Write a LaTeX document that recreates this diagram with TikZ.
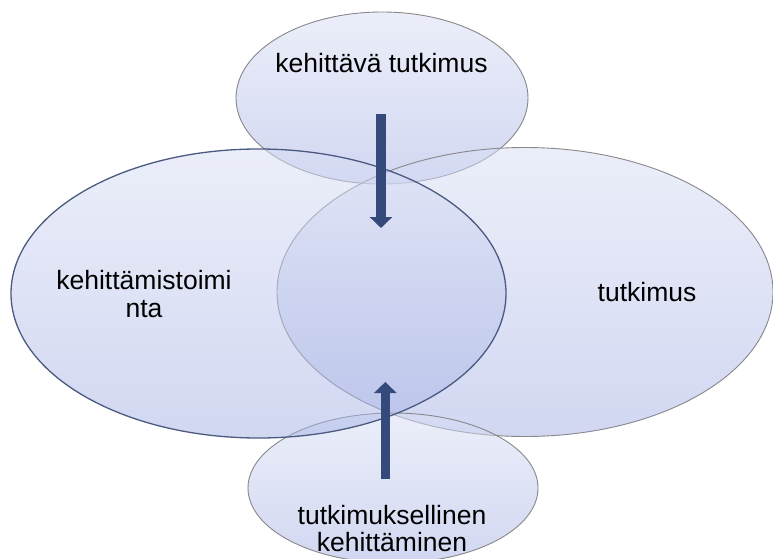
\documentclass[tikz,border=0pt]{standalone}
\usepackage{fontspec}
\setmainfont{Liberation Sans}
\usetikzlibrary{shapes.geometric,arrows.meta}
\definecolor{fillTop}{RGB}{217,223,245}
\definecolor{fillBot}{RGB}{165,177,229}
\definecolor{rimGray}{RGB}{135,135,140}
\definecolor{rimBlue}{RGB}{75,90,128}
\definecolor{arrowBlue}{RGB}{52,74,122}
\tikzset{
  blob/.style={ellipse, inner sep=0pt, top color=fillTop, bottom color=fillBot,
    fill opacity=0.5, draw=rimGray, line width=0.9pt},
  lbl/.style={font=\fontsize{26.5}{27.5}\selectfont, inner sep=0pt, align=center, text=black},
  flowarrow/.style={draw=arrowBlue, fill=arrowBlue, line width=9.5pt,
    -{Triangle[width=22pt,length=11pt]}}
}
\begin{document}
\begin{tikzpicture}[x=1pt,y=-1pt]
\useasboundingbox[fill=white] (0,0) rectangle (773,559);
\node[blob, minimum width=292pt, minimum height=172pt] (topE) at (382,98) {};
\node[blob, minimum width=496pt, minimum height=289pt] (rightE) at (525,292) {};
\node[blob, minimum width=290pt, minimum height=150pt] (botE) at (393,488) {};
\node[blob, draw=rimBlue, line width=1.3pt, minimum width=495pt, minimum height=289pt] (leftE) at (258.5,293.5) {};
\node[lbl, anchor=base] (tTop) at (381.5,72.5) {kehittävä tutkimus};
\node[lbl] (tLeft) at (144,294) {kehittämistoimi\\nta};
\node[lbl, anchor=base] (tRight) at (647,301) {tutkimus};
\node[lbl] (tBot) at (392,528.4) {tutkimuksellinen\\kehittäminen};
\coordinate (d0) at (381,114);
\coordinate (d1) at (381,228);
\draw[flowarrow] (d0) -- (d1);
\coordinate (u0) at (385.3,479);
\coordinate (u1) at (385.3,382);
\draw[flowarrow] (u0) -- (u1);
\end{tikzpicture}
\end{document}
